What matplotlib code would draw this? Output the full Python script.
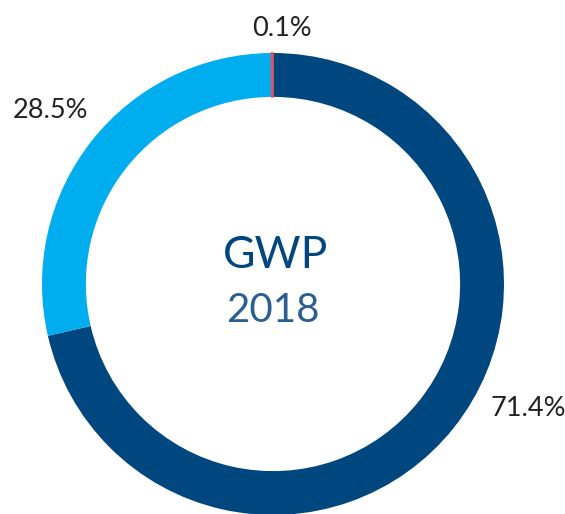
import matplotlib.pyplot as plt

# GWP share, 2018
labels = ["71.4%", "28.5%", "0.1%"]
values = [71.4, 28.5, 0.1]
colors = ["#00467f", "#00adef", "#e8505b"]

R = 231.0  # outer radius in px
cx, cy = 273.0, 284.0  # centre in px
W, H = 565, 514


def px(x, y):
    # pixel (from top-left) -> data coords
    return (x - cx) / R, (cy - y) / R


fig = plt.figure(figsize=(W / 100, H / 100), dpi=100)
ax = fig.add_axes([0, 0, 1, 1])
wedges, _ = ax.pie(values, colors=colors, startangle=90, counterclock=False,
                   radius=1.0, wedgeprops=dict(width=0.19, edgecolor="none"))
# tiny slice: give it a visible edge
wedges[2].set_edgecolor(colors[2])
wedges[2].set_linewidth(1.2)
ax.set_xlim(-cx / R, (W - cx) / R)
ax.set_ylim(-(H - cy) / R, cy / R)
ax.set_aspect("equal")
ax.axis("off")

label_pos = [(528, 408), (51, 110), (282, 29)]
for lab, (x, y) in zip(labels, label_pos):
    ax.text(*px(x, y), lab, ha="center", va="center", fontsize=19.5,
            color="#222222", family="Lato")

ax.text(*px(276, 255), "GWP", ha="center", va="center", fontsize=32,
        color="#00467f", family="Lato")
ax.text(*px(273, 311), "2018", ha="center", va="center", fontsize=29,
        color="#2b5f93", family="Lato")

fig.savefig("out.png", dpi=100)
